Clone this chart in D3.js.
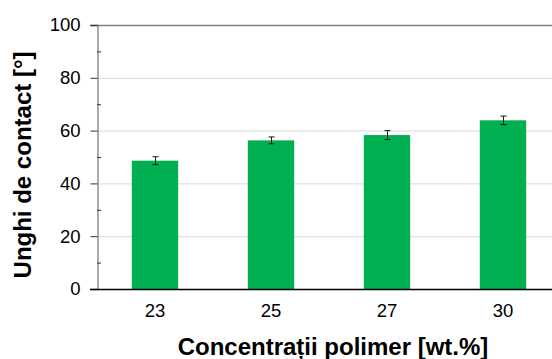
<!DOCTYPE html>
<html>
<head>
<meta charset="utf-8">
<script src="https://cdn.jsdelivr.net/npm/d3@7"></script>
<style>
  body { margin: 0; background: #fff; }
  svg { display: block; font-family: "Liberation Sans", Arial, sans-serif; }
</style>
</head>
<body>
<svg id="chart" width="552" height="359"></svg>
<script>
  // data
  var categories = ["23", "25", "27", "30"];
  var values = [48.6, 56.3, 58.3, 63.9];
  var errors = [1.5, 1.3, 1.7, 1.6];
  var yTicks = [0, 20, 40, 60, 80, 100];

  var svg = d3.select("#chart");
  var plotLeft = 97, plotRight = 561, plotTop = 25, plotBottom = 289;

  var x = d3.scaleBand()
    .domain(categories)
    .range([plotLeft, plotRight])
    .paddingInner(0.6)
    .paddingOuter(0.3);

  var y = d3.scaleLinear()
    .domain([0, 100])
    .range([plotBottom, plotTop]);

  // gridlines
  svg.append("g")
    .selectAll("line")
    .data(yTicks.filter(function(d) { return d > 0 && d < 100; }))
    .enter().append("line")
    .attr("x1", plotLeft).attr("x2", 552)
    .attr("y1", function(d) { return y(d) + 0.5; })
    .attr("y2", function(d) { return y(d) + 0.5; })
    .attr("stroke", "#d9d9d9")
    .attr("stroke-width", 1);

  // top border line at 100
  svg.append("line")
    .attr("x1", 90).attr("x2", 552)
    .attr("y1", y(100) + 0.5).attr("y2", y(100) + 0.5)
    .attr("stroke", "#808080")
    .attr("stroke-width", 1.3);

  // bars
  svg.append("g")
    .selectAll("rect")
    .data(values)
    .enter().append("rect")
    .attr("x", function(d, i) { return x(categories[i]); })
    .attr("width", x.bandwidth())
    .attr("y", function(d) { return y(d); })
    .attr("height", function(d) { return y(0) - y(d); })
    .attr("fill", "#00b050");

  // error bars
  var err = svg.append("g")
    .attr("stroke", "#1a1a1a")
    .attr("stroke-width", 1);
  values.forEach(function(v, i) {
    var cx = Math.round(x(categories[i]) + x.bandwidth() / 2) + 0.5;
    var lo = y(v - errors[i]), hi = y(v + errors[i]);
    err.append("line").attr("x1", cx).attr("x2", cx).attr("y1", hi).attr("y2", lo);
    err.append("line").attr("x1", cx - 3).attr("x2", cx + 3).attr("y1", hi).attr("y2", hi);
    err.append("line").attr("x1", cx - 3).attr("x2", cx + 3).attr("y1", lo).attr("y2", lo);
  });

  // y axis
  var yAxis = svg.append("g")
    .attr("transform", "translate(" + (plotLeft + 0.5) + ",0)")
    .call(d3.axisLeft(y).tickValues(yTicks).tickSize(7).tickPadding(10));
  yAxis.select(".domain").attr("stroke", "#808080").attr("stroke-width", 1.3);
  yAxis.selectAll(".tick line").attr("stroke", "#333");
  yAxis.selectAll("text")
    .attr("font-size", "18.5px")
    .attr("font-family", "Liberation Sans, Arial, sans-serif")
    .attr("fill", "#000");

  // minor ticks inside
  svg.append("g")
    .selectAll("line")
    .data([10, 30, 50, 70, 90])
    .enter().append("line")
    .attr("x1", plotLeft).attr("x2", plotLeft + 4)
    .attr("y1", function(d) { return y(d) + 0.5; })
    .attr("y2", function(d) { return y(d) + 0.5; })
    .attr("stroke", "#333");

  // x axis
  var xAxis = svg.append("g")
    .attr("transform", "translate(0," + (plotBottom + 0.5) + ")")
    .call(d3.axisBottom(x).tickSize(0).tickPadding(14));
  xAxis.select(".domain").remove();
  xAxis.append("line")
    .attr("x1", 90).attr("x2", 552)
    .attr("stroke", "#000").attr("stroke-width", 1.3);
  xAxis.selectAll("text")
    .attr("font-size", "18.5px")
    .attr("font-family", "Liberation Sans, Arial, sans-serif")
    .attr("fill", "#000");

  // axis titles
  svg.append("text")
    .attr("x", 333).attr("y", 355)
    .attr("text-anchor", "middle")
    .attr("font-size", "24px")
    .attr("font-weight", "bold")
    .text("Concentrații polimer [wt.%]");

  svg.append("text")
    .attr("transform", "translate(31,165) rotate(-90)")
    .attr("text-anchor", "middle")
    .attr("font-size", "24px")
    .attr("font-weight", "bold")
    .text("Unghi de contact [°]");
</script>
</body>
</html>
